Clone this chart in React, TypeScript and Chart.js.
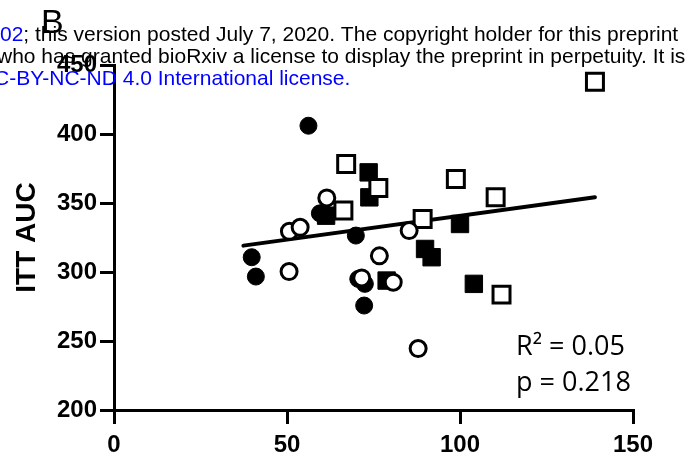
import React, { useEffect, useRef } from "react";
import { Chart, registerables } from "chart.js";

Chart.register(...registerables);

// ---- data ----
const xTicks = [0, 50, 100, 150];
const yTicks = [200, 250, 300, 350, 400, 450];

const filledCircleX = [56.2, 59.5, 69.9, 39.8, 41.0, 70.6, 72.5, 72.3];
const filledCircleY = [406.0, 342.5, 326.4, 310.7, 296.7, 295.0, 291.4, 275.7];

const filledSquareX = [73.6, 73.8, 61.3, 78.8, 89.9, 91.8, 100.0, 104.0];
const filledSquareY = [372.2, 354.1, 340.8, 293.8, 316.7, 310.7, 334.8, 291.4];

const openSquareX = [67.1, 76.4, 66.3, 98.8, 110.3, 89.2, 112.0, 139.0];
const openSquareY = [378.3, 360.9, 344.5, 367.4, 354.1, 338.4, 283.6, 437.9];

const openCircleX = [61.5, 50.7, 53.8, 50.6, 71.6, 76.7, 80.7, 85.3, 87.9];
const openCircleY = [353.7, 329.5, 332.4, 300.3, 295.7, 311.7, 292.6, 330.0, 244.5];

const fitX = [37.4, 139.0];
const fitY = [319.1, 354.1];

const yTitle = "ITT AUC";
const panelLabel = "B";
const statR2 = "R² = 0.05";
const statP = "p = 0.218";
const headerLink1 = "02";
const headerLine1 = "; this version posted July 7, 2020. The copyright holder for this preprint";
const headerLine2 = "who has granted bioRxiv a license to display the preprint in perpetuity. It is";
const headerLine3 = "C-BY-NC-ND 4.0 International license.";

const pts = (xs: number[], ys: number[]) => xs.map((x, i) => ({ x, y: ys[i] }));

const BLUE = "#0000ff";
const BLACK = "#000000";
const HEADER_FONT = '21px "Liberation Sans", Arial, sans-serif';

const overlayPlugin = {
  id: "overlayText",
  afterDraw(chart: any) {
    const ctx = chart.ctx as CanvasRenderingContext2D;
    ctx.save();
    ctx.textBaseline = "alphabetic";
    ctx.textAlign = "left";

    // header watermark lines
    ctx.font = HEADER_FONT;
    ctx.fillStyle = BLUE;
    ctx.fillText(headerLink1, 0, 41);
    const w = ctx.measureText(headerLink1).width;
    ctx.fillStyle = BLACK;
    ctx.fillText(headerLine1, w, 41);
    ctx.fillText(headerLine2, -3, 63);
    ctx.fillStyle = BLUE;
    ctx.fillText(headerLine3, -6, 85);

    // panel letter
    ctx.fillStyle = BLACK;
    ctx.font = '34px "Liberation Sans", Arial, sans-serif';
    ctx.fillText(panelLabel, 41, 33);

    // stats
    ctx.font = '27px "Open Sans", "Noto Sans", sans-serif';
    ctx.fillText(statR2, 516, 355);
    ctx.fillText(statP, 516, 391);
    ctx.restore();
  },
};

const axisFont = { family: '"Liberation Sans", Arial, sans-serif', size: 24, weight: "bold" as const };

export default function App() {
  const ref = useRef<HTMLCanvasElement | null>(null);

  useEffect(() => {
    if (!ref.current) return;
    const chart = new Chart(ref.current, {
      type: "scatter",
      data: {
        datasets: [
          {
            label: "open circles",
            data: pts(openCircleX, openCircleY),
            pointStyle: "circle",
            pointRadius: 8,
            pointBorderWidth: 3,
            pointBackgroundColor: "#ffffff",
            pointBorderColor: BLACK,
            order: 1,
          },
          {
            label: "open squares",
            data: pts(openSquareX, openSquareY),
            pointStyle: "rect",
            pointRadius: 12,
            pointBorderWidth: 3,
            pointBackgroundColor: "#ffffff",
            pointBorderColor: BLACK,
            order: 2,
          },
          {
            label: "filled squares",
            data: pts(filledSquareX, filledSquareY),
            pointStyle: "rect",
            pointRadius: 12.3,
            pointBorderWidth: 1,
            pointBackgroundColor: BLACK,
            pointBorderColor: BLACK,
            order: 3,
          },
          {
            label: "filled circles",
            data: pts(filledCircleX, filledCircleY),
            pointStyle: "circle",
            pointRadius: 8.5,
            pointBorderWidth: 1,
            pointBackgroundColor: BLACK,
            pointBorderColor: BLACK,
            order: 4,
          },
          {
            label: "fit",
            data: pts(fitX, fitY),
            showLine: true,
            borderColor: BLACK,
            borderWidth: 4,
            borderCapStyle: "round",
            pointRadius: 0,
            order: 5,
          } as any,
        ],
      },
      options: {
        responsive: false,
        animation: false,
        devicePixelRatio: 1,
        layout: { padding: { top: 65, right: 62, left: 0, bottom: 0 } },
        plugins: { legend: { display: false }, tooltip: { enabled: false } },
        events: [],
        scales: {
          x: {
            type: "linear",
            min: 0,
            max: 150,
            afterBuildTicks: (s: any) => {
              s.ticks = xTicks.map((v) => ({ value: v }));
            },
            afterFit: (s: any) => {
              s.height = 52;
            },
            ticks: { font: axisFont, color: BLACK, padding: 7, maxRotation: 0 },
            grid: { drawOnChartArea: false, drawTicks: true, tickLength: 14, lineWidth: 3, color: BLACK },
            border: { display: true, width: 3, color: BLACK },
          },
          y: {
            type: "linear",
            min: 200,
            max: 450,
            afterBuildTicks: (s: any) => {
              s.ticks = yTicks.map((v) => ({ value: v }));
            },
            afterFit: (s: any) => {
              s.width = 114;
            },
            ticks: { font: axisFont, color: BLACK, padding: 3 },
            grid: { drawOnChartArea: false, drawTicks: true, tickLength: 14, lineWidth: 3, color: BLACK },
            border: { display: true, width: 3, color: BLACK },
            title: {
              display: true,
              text: yTitle,
              color: BLACK,
              font: { family: '"Liberation Sans", Arial, sans-serif', size: 28, weight: "bold" },
              padding: { top: 10, bottom: 0 },
            },
          },
        },
      },
      plugins: [overlayPlugin],
    });
    return () => chart.destroy();
  }, []);

  return (
    <div style={{ position: "absolute", left: 0, top: 0, width: 695, height: 462, background: "#fff" }}>
      <canvas ref={ref} width={695} height={462} style={{ display: "block" }} />
    </div>
  );
}
